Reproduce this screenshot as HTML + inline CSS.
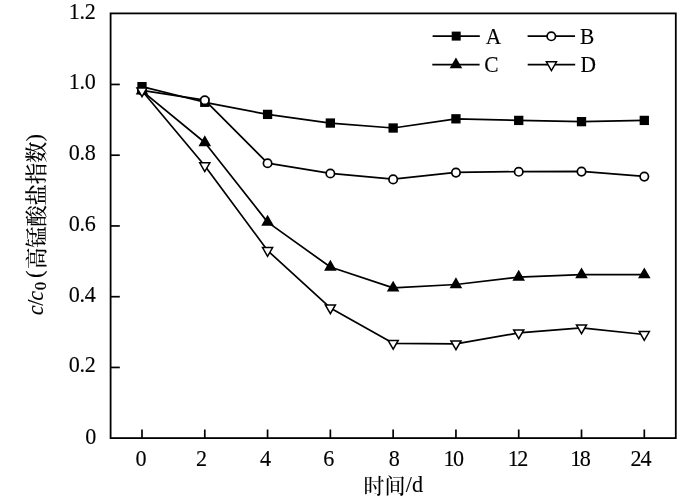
<!DOCTYPE html>
<html lang="zh"><head><meta charset="utf-8"><title>chart</title>
<style>
html,body{margin:0;padding:0;background:#fff;}
body{width:700px;height:500px;overflow:hidden;}
svg{display:block;}
text{font-family:"Liberation Serif","Noto Serif CJK SC",serif;fill:#000;}
.t{font-size:23.3px;stroke:#000;stroke-width:0.12px;}
.cj{font-family:"Noto Serif CJK SC","Liberation Serif",serif;font-size:21.4px;font-weight:500;}
</style></head><body>
<svg width="700" height="500" viewBox="0 0 700 500">
<rect width="700" height="500" fill="#fff"/>
<rect x="110.6" y="13.4" width="565.20" height="424.70" fill="none" stroke="#000" stroke-width="1.8"/>
<line x1="142.00" y1="438.1" x2="142.00" y2="429.50" stroke="#000" stroke-width="1.7"/><line x1="204.79" y1="438.1" x2="204.79" y2="429.50" stroke="#000" stroke-width="1.7"/><line x1="267.57" y1="438.1" x2="267.57" y2="429.50" stroke="#000" stroke-width="1.7"/><line x1="330.36" y1="438.1" x2="330.36" y2="429.50" stroke="#000" stroke-width="1.7"/><line x1="393.15" y1="438.1" x2="393.15" y2="429.50" stroke="#000" stroke-width="1.7"/><line x1="455.94" y1="438.1" x2="455.94" y2="429.50" stroke="#000" stroke-width="1.7"/><line x1="518.72" y1="438.1" x2="518.72" y2="429.50" stroke="#000" stroke-width="1.7"/><line x1="581.51" y1="438.1" x2="581.51" y2="429.50" stroke="#000" stroke-width="1.7"/><line x1="644.30" y1="438.1" x2="644.30" y2="429.50" stroke="#000" stroke-width="1.7"/><line x1="110.6" y1="367.45" x2="119.80" y2="367.45" stroke="#000" stroke-width="1.7"/><line x1="110.6" y1="296.70" x2="119.80" y2="296.70" stroke="#000" stroke-width="1.7"/><line x1="110.6" y1="225.95" x2="119.80" y2="225.95" stroke="#000" stroke-width="1.7"/><line x1="110.6" y1="155.20" x2="119.80" y2="155.20" stroke="#000" stroke-width="1.7"/><line x1="110.6" y1="84.45" x2="119.80" y2="84.45" stroke="#000" stroke-width="1.7"/>
<text class="t" transform="translate(141.00,465.70) scale(0.95,1)" text-anchor="middle">0</text><text class="t" transform="translate(201.49,465.70) scale(0.95,1)" text-anchor="middle">2</text><text class="t" transform="translate(265.57,465.70) scale(0.95,1)" text-anchor="middle">4</text><text class="t" transform="translate(328.66,465.70) scale(0.95,1)" text-anchor="middle">6</text><text class="t" transform="translate(394.15,465.70) scale(0.95,1)" text-anchor="middle">8</text><text class="t" letter-spacing="-1.8" transform="translate(452.94,465.70) scale(0.95,1)" text-anchor="middle">10</text><text class="t" letter-spacing="-1.7" transform="translate(517.22,465.70) scale(0.95,1)" text-anchor="middle">12</text><text class="t" letter-spacing="-1.7" transform="translate(579.71,465.70) scale(0.95,1)" text-anchor="middle">18</text><text class="t" letter-spacing="-0.9" transform="translate(640.60,465.70) scale(0.95,1)" text-anchor="middle">24</text>
<text class="t" transform="translate(96.20,443.60) scale(0.95,1)" text-anchor="end">0</text><text class="t" letter-spacing="-0.4" transform="translate(95.40,372.35) scale(0.95,1)" text-anchor="end">0.2</text><text class="t" letter-spacing="-0.4" transform="translate(95.40,301.60) scale(0.95,1)" text-anchor="end">0.4</text><text class="t" letter-spacing="-0.4" transform="translate(95.40,230.85) scale(0.95,1)" text-anchor="end">0.6</text><text class="t" letter-spacing="-0.4" transform="translate(95.40,160.10) scale(0.95,1)" text-anchor="end">0.8</text><text class="t" letter-spacing="-0.4" transform="translate(95.40,89.35) scale(0.95,1)" text-anchor="end">1.0</text><text class="t" letter-spacing="-0.4" transform="translate(95.40,18.60) scale(0.95,1)" text-anchor="end">1.2</text>
<text class="cj" x="363.4" y="492.6" style="font-size:21px">时间</text><text class="t" transform="translate(405.80,491.90) scale(0.95,1)" text-anchor="start">/d</text>
<g transform="translate(42.9,313.0) rotate(-90)"><text class="t" font-style="italic" transform="translate(-2.20,0.00) scale(0.95,1)" text-anchor="start">c</text><text class="t" transform="translate(7.30,0.00) scale(0.95,1)" text-anchor="start">/</text><text class="t" font-style="italic" transform="translate(12.30,0.00) scale(0.95,1)" text-anchor="start">c</text><text x="22.9" y="3.0" font-size="16" stroke="#000" stroke-width="0.25">0</text><text class="t" transform="translate(35.00,-0.50) scale(0.95,1)" text-anchor="start">(</text><text class="cj" x="44.0" y="0.8" letter-spacing="-0.2">高锰酸盐指数</text><text class="t" transform="translate(171.50,-0.50) scale(0.95,1)" text-anchor="start">)</text></g>
<polyline points="142.00,86.63 204.79,102.30 267.57,114.40 330.36,123.06 393.15,128.01 455.94,118.82 518.72,120.41 581.51,121.65 644.30,120.41" fill="none" stroke="#000" stroke-width="1.7" stroke-linejoin="round"/>
<rect x="137.35" y="81.98" width="9.3" height="9.3" fill="#000"/><rect x="200.14" y="97.65" width="9.3" height="9.3" fill="#000"/><rect x="262.93" y="109.75" width="9.3" height="9.3" fill="#000"/><rect x="325.71" y="118.41" width="9.3" height="9.3" fill="#000"/><rect x="388.50" y="123.36" width="9.3" height="9.3" fill="#000"/><rect x="451.29" y="114.17" width="9.3" height="9.3" fill="#000"/><rect x="514.07" y="115.76" width="9.3" height="9.3" fill="#000"/><rect x="576.86" y="117.00" width="9.3" height="9.3" fill="#000"/><rect x="639.65" y="115.76" width="9.3" height="9.3" fill="#000"/>
<polyline points="142.00,90.34 204.79,100.07 267.57,163.04 330.36,173.29 393.15,179.20 455.94,172.41 518.72,171.60 581.51,171.38 644.30,176.41" fill="none" stroke="#000" stroke-width="1.7" stroke-linejoin="round"/>
<circle cx="142.00" cy="90.54" r="4.2" fill="#fff" stroke="#000" stroke-width="1.7"/><circle cx="204.79" cy="100.27" r="4.2" fill="#fff" stroke="#000" stroke-width="1.7"/><circle cx="267.57" cy="163.24" r="4.2" fill="#fff" stroke="#000" stroke-width="1.7"/><circle cx="330.36" cy="173.49" r="4.2" fill="#fff" stroke="#000" stroke-width="1.7"/><circle cx="393.15" cy="179.40" r="4.2" fill="#fff" stroke="#000" stroke-width="1.7"/><circle cx="455.94" cy="172.61" r="4.2" fill="#fff" stroke="#000" stroke-width="1.7"/><circle cx="518.72" cy="171.80" r="4.2" fill="#fff" stroke="#000" stroke-width="1.7"/><circle cx="581.51" cy="171.58" r="4.2" fill="#fff" stroke="#000" stroke-width="1.7"/><circle cx="644.30" cy="176.61" r="4.2" fill="#fff" stroke="#000" stroke-width="1.7"/>
<polyline points="142.00,90.87 204.79,142.52 267.57,222.11 330.36,267.04 393.15,287.91 455.94,284.51 518.72,277.09 581.51,274.68 644.30,274.68" fill="none" stroke="#000" stroke-width="1.7" stroke-linejoin="round"/>
<polygon points="142.00,83.60 135.70,94.50 148.30,94.50" fill="#000"/><polygon points="204.79,135.25 198.49,146.15 211.09,146.15" fill="#000"/><polygon points="267.57,214.85 261.27,225.75 273.88,225.75" fill="#000"/><polygon points="330.36,259.77 324.06,270.67 336.66,270.67" fill="#000"/><polygon points="393.15,280.64 386.85,291.54 399.45,291.54" fill="#000"/><polygon points="455.94,277.25 449.64,288.15 462.24,288.15" fill="#000"/><polygon points="518.72,269.82 512.42,280.72 525.02,280.72" fill="#000"/><polygon points="581.51,267.41 575.21,278.31 587.81,278.31" fill="#000"/><polygon points="644.30,267.41 638.00,278.31 650.60,278.31" fill="#000"/>
<polyline points="142.00,90.80 204.79,165.69 267.57,250.52 330.36,307.90 393.15,343.31 455.94,343.91 518.72,332.91 581.51,327.88 644.30,334.50" fill="none" stroke="#000" stroke-width="1.7" stroke-linejoin="round"/>
<polygon points="142.00,96.63 136.95,87.88 147.05,87.88" fill="#fff" stroke="#000" stroke-width="1.5" stroke-linejoin="miter"/><polygon points="204.79,171.52 199.74,162.77 209.84,162.77" fill="#fff" stroke="#000" stroke-width="1.5" stroke-linejoin="miter"/><polygon points="267.57,256.35 262.52,247.60 272.62,247.60" fill="#fff" stroke="#000" stroke-width="1.5" stroke-linejoin="miter"/><polygon points="330.36,313.73 325.31,304.98 335.41,304.98" fill="#fff" stroke="#000" stroke-width="1.5" stroke-linejoin="miter"/><polygon points="393.15,349.14 388.10,340.39 398.20,340.39" fill="#fff" stroke="#000" stroke-width="1.5" stroke-linejoin="miter"/><polygon points="455.94,349.74 450.89,340.99 460.99,340.99" fill="#fff" stroke="#000" stroke-width="1.5" stroke-linejoin="miter"/><polygon points="518.72,338.74 513.67,329.99 523.77,329.99" fill="#fff" stroke="#000" stroke-width="1.5" stroke-linejoin="miter"/><polygon points="581.51,333.71 576.46,324.97 586.56,324.97" fill="#fff" stroke="#000" stroke-width="1.5" stroke-linejoin="miter"/><polygon points="644.30,340.33 639.25,331.58 649.35,331.58" fill="#fff" stroke="#000" stroke-width="1.5" stroke-linejoin="miter"/>
<line x1="432.6" y1="36.1" x2="479.8" y2="36.1" stroke="#000" stroke-width="1.7"/><rect x="451.70" y="31.60" width="9.0" height="9.0" fill="#000"/><text class="t" style="font-size:22.6px" transform="translate(485.70,43.60) scale(0.95,1)" text-anchor="start">A</text>
<line x1="527.6" y1="36.1" x2="575.0" y2="36.1" stroke="#000" stroke-width="1.7"/><circle cx="551.30" cy="36.30" r="4.2" fill="#fff" stroke="#000" stroke-width="1.7"/><text class="t" style="font-size:22.6px" transform="translate(580.00,43.50) scale(0.95,1)" text-anchor="start">B</text>
<line x1="432.3" y1="64.7" x2="479.6" y2="64.7" stroke="#000" stroke-width="1.7"/><polygon points="455.95,57.43 449.65,68.33 462.25,68.33" fill="#000"/><text class="t" style="font-size:22.6px" transform="translate(484.20,71.90) scale(0.95,1)" text-anchor="start">C</text>
<line x1="527.7" y1="64.7" x2="575.2" y2="64.7" stroke="#000" stroke-width="1.7"/><polygon points="551.45,70.53 546.40,61.78 556.50,61.78" fill="#fff" stroke="#000" stroke-width="1.5" stroke-linejoin="miter"/><text class="t" style="font-size:22.6px" transform="translate(580.60,71.90) scale(0.95,1)" text-anchor="start">D</text>
</svg>
</body></html>
